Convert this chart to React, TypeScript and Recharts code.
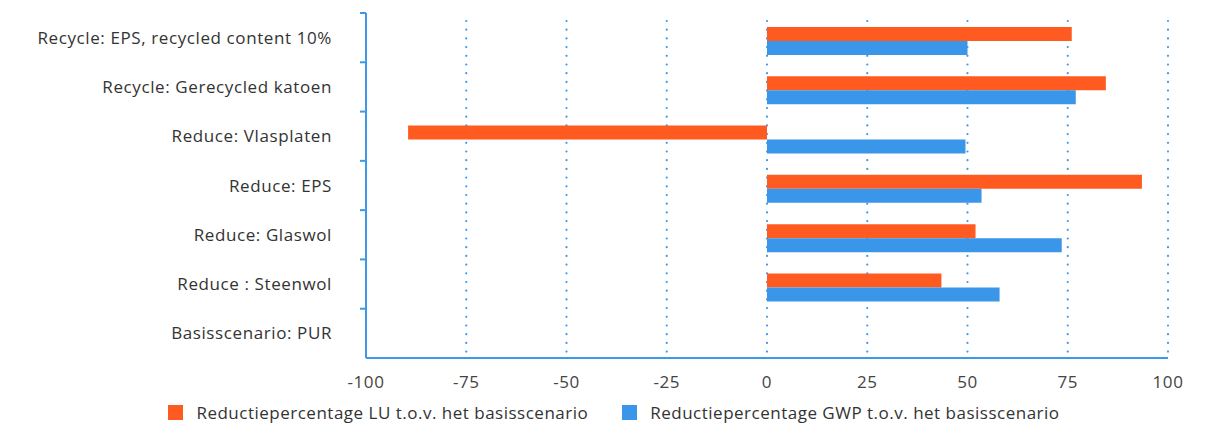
import { BarChart, Bar, XAxis, YAxis, CartesianGrid, Legend, Rectangle } from "recharts";

const categories = [
  "Recycle: EPS, recycled content 10%",
  "Recycle: Gerecycled katoen",
  "Reduce: Vlasplaten",
  "Reduce: EPS",
  "Reduce: Glaswol",
  "Reduce : Steenwol",
  "Basisscenario: PUR",
];
const luValues = [76, 84.5, -89.5, 93.5, 52, 43.5, 0];
const gwpValues = [50, 77, 49.5, 53.5, 73.5, 58, 0];
const xTicks = [-100, -75, -50, -25, 0, 25, 50, 75, 100];

const series = [
  { key: "lu", name: "Reductiepercentage LU t.o.v. het basisscenario", color: "#FF5A1F" },
  { key: "gwp", name: "Reductiepercentage GWP t.o.v. het basisscenario", color: "#3A96E8" },
];

const data = categories.map((name, i) => ({
  name,
  lu: luValues[i],
  gwp: gwpValues[i],
}));

const W = 1214;
const H = 428;
const TOP = 13;
const AXIS_Y = 358;
const BAND = (AXIS_Y - TOP) / categories.length;
const AXIS_COLOR = "#3E98E8";
const FONT = "'Open Sans', sans-serif";
const TEXT = { fontSize: 17, letterSpacing: 0.6, fontFamily: FONT };

function CategoryTick(props: any) {
  const { x, y, payload } = props;
  return (
    <g>
      <line x1={x - 6} x2={x} y1={y - BAND / 2} y2={y - BAND / 2} stroke={AXIS_COLOR} strokeWidth={2} />
      <text x={x - 34} y={y} dy={6} textAnchor="end" fill="#333" {...TEXT}>
        {payload.value}
      </text>
    </g>
  );
}

// bars sit a few px below the band centre in the original
function ShiftedBar(props: any) {
  return <Rectangle {...props} y={props.y + 3} />;
}

function LegendContent() {
  return (
    <div
      style={{
        display: "flex",
        justifyContent: "center",
        gap: 34,
        height: 24,
        alignItems: "center",
        paddingLeft: 14,
      }}
    >
      {series.map((s) => (
        <div key={s.key} style={{ display: "flex", alignItems: "center" }}>
          <span style={{ width: 15, height: 15, background: s.color, display: "inline-block", marginRight: 13 }} />
          <span style={{ ...TEXT, letterSpacing: 0.5, color: "#333" }}>{s.name}</span>
        </div>
      ))}
    </div>
  );
}

export default function App() {
  return (
    <div style={{ position: "absolute", left: 0, top: 0, width: W, height: H, background: "#fff" }}>
      <BarChart
        width={W}
        height={H}
        data={data}
        layout="vertical"
        margin={{ top: TOP, right: 46, left: 0, bottom: H - AXIS_Y - 30 - 24 }}
        barGap={0}
        barSize={14}
      >
        <CartesianGrid
          horizontal={false}
          stroke={AXIS_COLOR}
          strokeWidth={2.2}
          strokeDasharray="0 8.7"
          strokeDashoffset={-8}
          strokeLinecap="round"
        />
        <XAxis
          type="number"
          domain={[-100, 100]}
          ticks={xTicks}
          axisLine={{ stroke: AXIS_COLOR, strokeWidth: 2 }}
          tickLine={false}
          tickMargin={12}
          height={30}
          tick={{ ...TEXT, fill: "#444" }}
        />
        <YAxis
          type="category"
          dataKey="name"
          width={366}
          axisLine={{ stroke: AXIS_COLOR, strokeWidth: 2 }}
          tickLine={false}
          tickSize={0}
          tickMargin={0}
          tick={<CategoryTick />}
          interval={0}
        />
        <Legend
          verticalAlign="bottom"
          content={<LegendContent />}
          wrapperStyle={{ position: "absolute", left: 0, width: W, top: 400 }}
        />
        {series.map((s) => (
          <Bar key={s.key} dataKey={s.key} name={s.name} fill={s.color} shape={<ShiftedBar />} isAnimationActive={false} />
        ))}
      </BarChart>
    </div>
  );
}
